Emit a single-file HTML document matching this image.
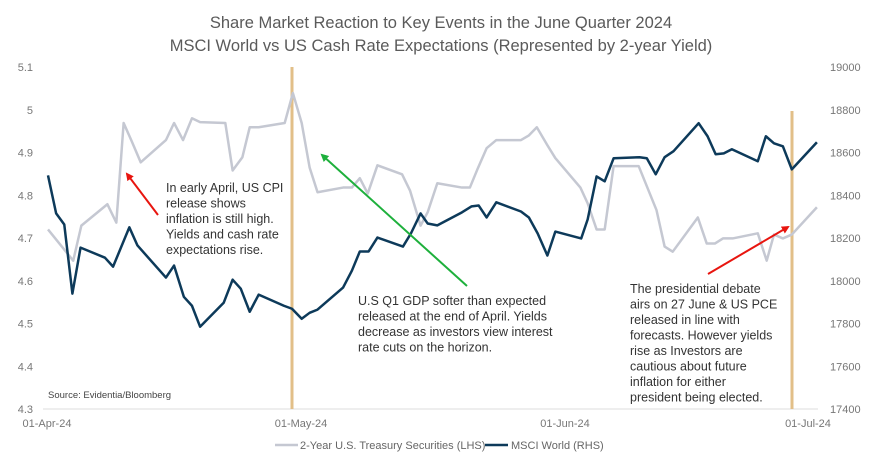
<!DOCTYPE html>
<html><head><meta charset="utf-8"><style>
html,body{margin:0;padding:0;background:#fff;}
svg{display:block;font-family:"Liberation Sans",sans-serif;}
</style></head><body>
<svg id="chart" width="883" height="468" viewBox="0 0 883 468">
<text x="441" y="28" text-anchor="middle" font-size="16.5" fill="#5a5a5a">Share Market Reaction to Key Events in the June Quarter 2024</text>
<text x="441" y="51" text-anchor="middle" font-size="16.5" fill="#5a5a5a">MSCI World vs US Cash Rate Expectations (Represented by 2-year Yield)</text>
<line x1="43" y1="409" x2="818" y2="409" stroke="#ddd" stroke-width="1"/>
<g id="yl"></g>
<g id="yr"></g>
<g id="xt"></g>
<line x1="292" y1="67" x2="292" y2="409" stroke="#e2bf88" stroke-width="3"/>
<line x1="792" y1="111" x2="792" y2="409" stroke="#e2bf88" stroke-width="3"/>
<g id="series"></g>
<defs>
<marker id="ar" markerWidth="8" markerHeight="8" refX="6" refY="4" orient="auto" markerUnits="userSpaceOnUse"><path d="M0,0 L8,4 L0,8 z" fill="#e8150f"/></marker>
<marker id="ag" markerWidth="8" markerHeight="8" refX="6" refY="4" orient="auto" markerUnits="userSpaceOnUse"><path d="M0,0 L8,4 L0,8 z" fill="#1eb03c"/></marker>
</defs>
<line x1="158" y1="215" x2="127" y2="174" stroke="#e8150f" stroke-width="2" marker-end="url(#ar)"/>
<line x1="467" y1="286" x2="322" y2="155" stroke="#1eb03c" stroke-width="2" marker-end="url(#ag)"/>
<line x1="708" y1="274" x2="788" y2="227" stroke="#e8150f" stroke-width="2" marker-end="url(#ar)"/>
<g font-size="12.5" fill="#333">
<text x="166" y="192">In early April, US CPI</text><text x="166" y="207.5">release shows</text><text x="166" y="223">inflation is still high.</text><text x="166" y="238.5">Yields and cash rate</text><text x="166" y="254">expectations rise.</text></g>
<g font-size="12.5" fill="#333">
<text x="358" y="305">U.S Q1 GDP softer than expected</text><text x="358" y="320.5">released at the end of April. Yields</text><text x="358" y="336">decrease as investors view interest</text><text x="358" y="351.5">rate cuts on the horizon.</text></g>
<g font-size="12.5" fill="#333">
<text x="630" y="293">The presidential debate</text><text x="630" y="308.5">airs on 27 June &amp; US PCE</text><text x="630" y="324">released in line with</text><text x="630" y="339.5">forecasts. However yields</text><text x="630" y="355">rise as Investors are</text><text x="630" y="370.5">cautious about future</text><text x="630" y="386">inflation for either</text><text x="630" y="401.5">president being elected.</text></g>
<text x="48" y="398" font-size="9.5" fill="#444">Source: Evidentia/Bloomberg</text>
<g>
<line x1="275" y1="445" x2="298" y2="445" stroke="#c5c8d2" stroke-width="2.5"/>
<text x="300" y="449" font-size="11" fill="#666">2-Year U.S. Treasury Securities (LHS)</text>
<line x1="485" y1="445" x2="508" y2="445" stroke="#0d3a5a" stroke-width="2.5"/>
<text x="511" y="449" font-size="11" fill="#666">MSCI World (RHS)</text>
</g>
</svg>
<script>
const leftTicks=[4.3,4.4,4.5,4.6,4.7,4.8,4.9,5,5.1];
const rightTicks=[17400,17600,17800,18000,18200,18400,18600,18800,19000];
const xTickDays=[0,30,61,91];
const xTickLabels=["01-Apr-24","01-May-24","01-Jun-24","01-Jul-24"];
const yieldDays=[0,3.1,4.1,7.3,8.4,9.3,10.3,11.4,14.5,15.5,16.6,17.7,18.7,21.8,22.7,23.9,24.8,25.9,29.1,30.1,31.1,32,32.9,35.8,36.8,37.7,38.6,39.7,42.5,43.4,44.6,45.4,46.5,49.3,50.2,51.1,52.1,53.2,56,56.9,57.8,59,59.9,61.6,62.9,63.8,64.9,65.9,67,70.1,72.3,73.3,74.3,77.4,78.5,79.5,80.5,81.7,84.8,85.9,86.8,87.9,89,92.1];
const yieldValues=[4.72,4.647,4.729,4.779,4.736,4.969,4.926,4.877,4.929,4.969,4.929,4.98,4.971,4.969,4.858,4.889,4.959,4.959,4.969,5.039,4.969,4.865,4.807,4.818,4.818,4.84,4.804,4.87,4.849,4.811,4.729,4.76,4.828,4.818,4.818,4.863,4.91,4.929,4.929,4.94,4.959,4.917,4.887,4.847,4.818,4.781,4.72,4.72,4.868,4.868,4.765,4.68,4.668,4.748,4.687,4.687,4.699,4.699,4.711,4.647,4.708,4.699,4.708,4.772];
const msciDays=[0,1,2,3,4,7,8,10,11,14.5,15.5,16.7,17.7,18.7,21.6,22.7,23.7,24.8,25.9,29,30,31.1,32,32.9,35.8,36.8,37.7,38.7,39.7,42.6,43.5,44.6,45.4,46.5,49.3,50.4,51.2,52.1,53.2,56,56.9,57.9,59,59.9,61.6,63,63.8,64.9,65.9,67,70.2,71.1,72.2,73.3,74.4,77.5,78.6,79.6,80.6,81.6,84.8,85.8,86.8,87.9,89,92.1];
const msciValues=[18493,18315,18263,17940,18155,18108,18066,18250,18165,18015,18071,17925,17883,17785,17897,18005,17963,17855,17935,17883,17869,17822,17850,17865,17968,18047,18137,18137,18202,18160,18221,18315,18268,18259,18320,18348,18352,18296,18367,18324,18296,18221,18118,18230,18212,18198,18287,18488,18465,18573,18578,18573,18498,18578,18606,18737,18676,18592,18596,18615,18559,18676,18643,18629,18521,18648];
const NS="http://www.w3.org/2000/svg";
const dAnch=[0,30,61,91], pAnch=[48,292,565,808];
function xs(d){let i=d<=30?0:(d<=61?1:2);return pAnch[i]+(d-dAnch[i])*(pAnch[i+1]-pAnch[i])/(dAnch[i+1]-dAnch[i]);}
function yl(v){return 409-(v-4.3)*(342/0.8);}
function yr(v){return 409-(v-17400)*(342/1600);}
function mk(tag,at,parent){const e=document.createElementNS(NS,tag);for(const k in at)e.setAttribute(k,at[k]);parent.appendChild(e);return e;}
const gl=document.getElementById('yl'),gr=document.getElementById('yr'),gx=document.getElementById('xt'),gs=document.getElementById('series');
leftTicks.forEach(v=>{const t=mk('text',{x:33,y:yl(v)+4,'text-anchor':'end','font-size':11,fill:'#777'},gl);t.textContent=String(v);

});
rightTicks.forEach(v=>{const t=mk('text',{x:830,y:yr(v)+4,'font-size':11,fill:'#777'},gr);t.textContent=String(v);

});
xTickDays.forEach((d,i)=>{const t=mk('text',{x:xs(d)+(i==0?-1:(i==1?9:0)),y:427,'text-anchor':'middle','font-size':11,fill:'#777'},gx);t.textContent=xTickLabels[i];

});
const p1=mk('polyline',{points:yieldDays.map((d,i)=>xs(d)+','+yl(yieldValues[i])).join(' '),fill:'none',stroke:'#c5c8d2','stroke-width':2.5,'stroke-linejoin':'round'},gs);


const p2=mk('polyline',{points:msciDays.map((d,i)=>xs(d)+','+yr(msciValues[i])).join(' '),fill:'none',stroke:'#0d3a5a','stroke-width':2.5,'stroke-linejoin':'round'},gs);


</script>
</body></html>
